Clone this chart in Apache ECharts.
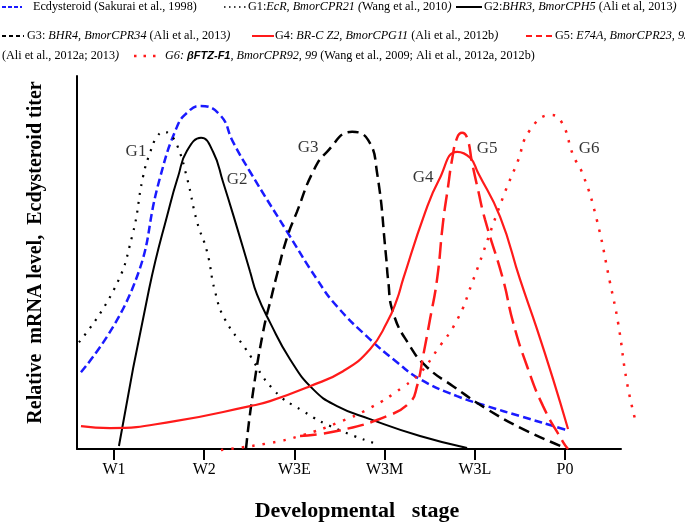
<!DOCTYPE html>
<html>
<head>
<meta charset="utf-8">
<script src="https://cdn.jsdelivr.net/npm/echarts@6/dist/echarts.min.js"></script>
<style>
html,body{margin:0;padding:0;background:#fff;}
#chart{width:685px;height:527px;}
</style>
</head>
<body>
<div id="chart"></div>
<script>
// Developmental stages (x positions 1..6)
const stages = ['W1', 'W2', 'W3E', 'W3M', 'W3L', 'P0'];
const stageValues = [1, 2, 3, 4, 5, 6];

// Relative levels: [stage position, relative level]
const ecdysteroid = [[0.634,77],[1.200,160],[1.510,272],[1.698,323],[1.809,337],[1.953,344],[2.175,335],[2.319,308],[2.508,278],[2.918,218],[3.251,170],[3.472,143],[3.838,110],[4.137,87],[4.392,70],[4.803,53],[5.135,43],[5.501,33],[5.978,20],[6.033,18]];
const g1 = [[0.612,107],[1.000,160],[1.200,213],[1.322,273],[1.399,297],[1.477,313],[1.554,318],[1.621,315],[1.698,305],[1.809,272],[1.920,228],[2.031,198],[2.120,158],[2.230,130],[2.463,100],[2.763,60],[3.095,38],[3.472,20],[3.916,5]];
const g2 = [[1.055,3],[1.388,160],[1.621,245],[1.710,273],[1.809,299],[1.965,312],[2.098,298],[2.208,268],[2.364,222],[2.508,178],[2.585,155],[2.729,127],[2.951,90],[3.206,60],[3.472,43],[3.838,30],[4.392,13],[4.914,1]];
const g3 = [[2.463,0],[2.530,50],[2.652,117],[2.752,155],[2.807,175],[2.918,212],[3.029,238],[3.206,278],[3.361,298],[3.639,318],[3.816,310],[3.916,277],[4.016,193],[4.038,170],[4.093,137],[4.282,103],[4.470,82],[4.758,63],[5.135,40],[5.534,20],[5.978,2]];
const g4 = [[0.634,23],[0.956,21],[1.676,28],[2.508,43],[2.729,48],[3.173,63],[3.539,78],[3.838,100],[4.027,127],[4.137,150],[4.204,170],[4.448,237],[4.603,270],[4.803,298],[4.947,292],[5.035,277],[5.279,233],[5.501,170],[5.690,120],[5.867,70],[6.033,20]];
const g5 = [[3.062,13],[3.472,18],[4.027,33],[4.282,47],[4.359,63],[4.426,93],[4.503,130],[4.581,170],[4.647,227],[4.703,263],[4.747,290],[4.803,312],[4.858,317],[4.914,312],[4.969,287],[5.035,260],[5.113,230],[5.313,170],[5.424,127],[5.579,83],[5.756,43],[5.978,7],[6.033,0]];
const g6 = [[2.186,0],[2.729,7],[3.095,15],[3.472,27],[3.838,42],[4.204,63],[4.392,77],[4.581,100],[4.803,130],[4.969,167],[5.313,253],[5.468,287],[5.612,320],[5.845,335],[5.967,327],[6.089,295],[6.200,275],[6.344,233],[6.499,167],[6.588,127],[6.687,67],[6.787,27]];

// Curve annotations
const curveNames = ['G1', 'G2', 'G3', 'G4', 'G5', 'G6'];
const curveLabelAt = [[1.244,298],[2.364,270],[3.151,302],[4.426,272],[5.135,301],[6.266,301]];

const chart = echarts.init(document.getElementById('chart'), null, {renderer: 'canvas'});

const SERIF = "'Liberation Serif', 'Times New Roman', serif";
const LF = 12.2;
const rich = {
  i: {fontStyle: 'italic', fontFamily: SERIF, fontSize: LF, fill: '#000'},
  b: {fontStyle: 'italic', fontWeight: 'bold', fontFamily: "'Liberation Sans', Arial, sans-serif", fontSize: LF - 1.2, fill: '#000'}
};
function legText(x, y, text) {
  return {type: 'text', x: x, y: y, silent: true,
    style: {text: text, fontFamily: SERIF, fontSize: LF, fill: '#000', verticalAlign: 'middle', rich: rich}};
}
function legLine(x1, x2, y, color, dash, w) {
  return {type: 'line', silent: true, shape: {x1: x1, y1: y, x2: x2, y2: y},
    style: {stroke: color, lineWidth: w || 2, lineDash: dash || null}};
}

function lineSeries(name, data, color, dash, width, axisIdx) {
  return {
    name: name, type: 'line', data: data, smooth: 0.5, showSymbol: false, symbol: 'none',
    xAxisIndex: axisIdx || 0, yAxisIndex: axisIdx || 0,
    clip: false, silent: true, animation: false,
    lineStyle: {color: color, width: width, type: dash || 'solid', cap: 'butt'}
  };
}

// same scale for both grids: 90.216 px per stage
const xMin = 0.59, xMax = 6.62, xMaxWide = 6.9968;

const option = {
  animation: false,
  grid: [
    {left: 77, right: 64, top: 76, bottom: 77, containLabel: false},
    {left: 77, right: 30, top: 76, bottom: 77, containLabel: false}
  ],
  xAxis: [{
    type: 'value', min: xMin, max: xMax, gridIndex: 0,
    axisLine: {show: true, lineStyle: {color: '#000', width: 2}},
    axisTick: {show: true, customValues: stageValues, length: 11, lineStyle: {color: '#000', width: 2}},
    axisLabel: {show: true, customValues: stageValues, margin: 13, color: '#000',
      fontFamily: SERIF, fontSize: 16, formatter: function (v) { return stages[Math.round(v) - 1]; }},
    splitLine: {show: false},
    name: 'Developmental   stage', nameLocation: 'middle', nameGap: 51,
    nameTextStyle: {fontFamily: SERIF, fontSize: 22, fontWeight: 'bold', color: '#000', padding: [0, 0, 0, 16]}
  }, {
    type: 'value', min: xMin, max: xMaxWide, gridIndex: 1, show: false,
    splitLine: {show: false}
  }],
  yAxis: [{
    type: 'value', min: 0, max: 374, gridIndex: 0,
    axisLine: {show: true, lineStyle: {color: '#000', width: 2}},
    axisTick: {show: false}, axisLabel: {show: false}, splitLine: {show: false},
    name: 'Relative  mRNA level,  Ecdysteroid titer', nameLocation: 'middle', nameGap: 31, nameRotate: 90,
    nameTextStyle: {fontFamily: SERIF, fontSize: 20, fontWeight: 'bold', color: '#000', padding: [0, 0, 0, 20]}
  }, {
    type: 'value', min: 0, max: 374, gridIndex: 1, show: false, splitLine: {show: false}
  }],
  series: [
    lineSeries('Ecdysteroid', ecdysteroid, '#1a1aff', [8, 4], 2.5),
    lineSeries('G1', g1, '#000', [2, 7], 2.2),
    lineSeries('G2', g2, '#000', 'solid', 2),
    lineSeries('G3', g3, '#000', [11, 6], 2.5),
    lineSeries('G4', g4, '#ff1a1a', 'solid', 2.2),
    lineSeries('G5', g5, '#ff1a1a', [17, 7], 2.5),
    lineSeries('G6', g6, '#ff1a1a', [2.5, 8], 2.5, 1),
    {
      type: 'scatter', symbolSize: 0, silent: true, animation: false, clip: false,
      data: curveLabelAt.map(function (p, k) { return {value: p, name: curveNames[k]}; }),
      label: {show: true, position: 'inside', formatter: '{b}', color: '#000',
        fontFamily: SERIF, fontSize: 17}
    }
  ],
  graphic: [
    // line 1
    legLine(2, 22, 7, '#1a1aff', [4, 2], 2),
    legText(33, 7, 'Ecdysteroid (Sakurai et al., 1998)'),
    legLine(224, 246, 7, '#000', [1.5, 3.5], 1.5),
    legText(248, 7, 'G1:{i|EcR, BmorCPR21 (}Wang et al., 2010{i|)}'),
    legLine(456, 482, 7, '#000', null, 2),
    legText(484, 7, 'G2:{i|BHR3, BmorCPH5} (Ali et al, 2013{i|)}'),
    // line 2
    legLine(2, 24, 36, '#000', [4, 3], 2),
    legText(27, 36, 'G3: {i|BHR4, BmorCPR34} (Ali et al., 2013{i|)}'),
    legLine(252, 274, 36, '#ff1a1a', null, 2),
    legText(275, 36, 'G4: {i|BR-C Z2, BmorCPG11} (Ali et al., 2012b{i|)}'),
    legLine(526, 553, 36, '#ff1a1a', [6, 4], 2),
    legText(555, 36, 'G5: {i|E74A, BmorCPR23, 93}'),
    // line 3
    legText(2, 56, '(Ali et al., 2012a; 2013{i|)}'),
    legLine(134, 160, 56, '#ff1a1a', [2.5, 7], 2.5),
    legText(165, 56, '{i|G6: }{b|βFTZ-F1}{i|, BmorCPR92, 99} (Wang et al., 2009; Ali et al., 2012a, 2012b)')
  ]
};
chart.setOption(option);
</script>
</body>
</html>
